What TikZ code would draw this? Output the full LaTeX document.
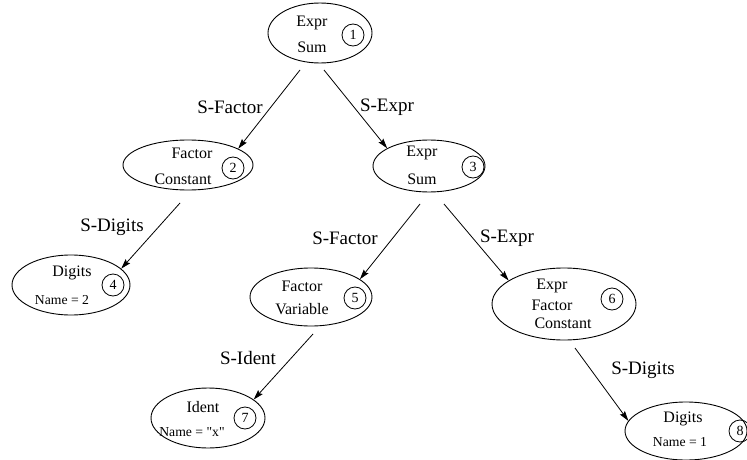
\documentclass[tikz,border=0pt]{standalone}
\usepackage{fontspec}
\setmainfont{Liberation Serif}
\usetikzlibrary{arrows.meta,shapes.geometric}

\begin{document}
\begin{tikzpicture}[x=1pt,y=-1pt,>={Stealth[length=10pt,width=6pt,inset=1.5pt]},
  tnode/.style={draw,ellipse,inner sep=0pt,line width=0.9pt},
  num/.style={draw,circle,inner sep=0pt,minimum size=22pt,line width=0.8pt,font=\fontsize{14}{14}\selectfont},
  word/.style={inner sep=0pt,font=\fontsize{16}{16}\selectfont},
  attr/.style={inner sep=0pt,font=\fontsize{13.7}{14}\selectfont},
  rel/.style={inner sep=0pt,font=\fontsize{19}{19}\selectfont},
  edge/.style={->,line width=0.8pt}]
\useasboundingbox (0,0) rectangle (747,460);
% tree nodes
\node[tnode,minimum width=104pt,minimum height=60pt] (e1) at (320,33) {};
\node[word] (e1a) at (312,23) {Expr};
\node[word] (e1b) at (312,47) {Sum};
\node[num] (c1) at (353,35) {1};
\node[tnode,minimum width=130pt,minimum height=50pt] (e2) at (188,165) {};
\node[word] (e2a) at (192,153) {Factor};
\node[word] (e2b) at (183,179) {Constant};
\node[num] (c2) at (233,168) {2};
\node[tnode,minimum width=112pt,minimum height=52pt] (e3) at (429,166) {};
\node[word] (e3a) at (422,153) {Expr};
\node[word] (e3b) at (422,179) {Sum};
\node[num] (c3) at (473,167) {3};
\node[tnode,minimum width=118pt,minimum height=60pt] (e4) at (71,285) {};
\node[word] (e4a) at (72,273) {Digits};
\node[attr] (e4b) at (62,300) {Name = 2};
\node[num] (c4) at (113,285) {4};
\node[tnode,minimum width=122pt,minimum height=58pt] (e5) at (311,297) {};
\node[word] (e5a) at (302,286) {Factor};
\node[word] (e5b) at (302,309) {Variable};
\node[num] (c5) at (355,298) {5};
\node[tnode,minimum width=144pt,minimum height=72pt] (e6) at (564,304) {};
\node[word] (e6a) at (552,286) {Expr};
\node[word] (e6b) at (552,305) {Factor};
\node[word] (e6c) at (563,323) {Constant};
\node[num] (c6) at (612,299) {6};
\node[tnode,minimum width=114pt,minimum height=60pt] (e7) at (208,418) {};
\node[word] (e7a) at (203,407) {Ident};
\node[attr] (e7b) at (192,432) {Name = \textquotedbl x\textquotedbl};
\node[num] (c7) at (245,418) {7};
\node[tnode,minimum width=122pt,minimum height=58pt] (e8) at (686,431) {};
\node[word] (e8a) at (683,419) {Digits};
\node[attr] (e8b) at (680,442) {Name = 1};
\node[num] (c8) at (740,431) {8};
% where the arcs leave
\coordinate (s12) at (300,70);
\coordinate (s13) at (324,70);
\coordinate (s24) at (180,203);
\coordinate (s35) at (420,204);
\coordinate (s36) at (444,204);
\coordinate (s57) at (313,334);
\coordinate (s68) at (575,348);
\draw[edge] (s12) -- (e2.18);
\draw[edge] (s13) -- (e3.157);
\draw[edge] (s24) -- (e4.18);
\draw[edge] (s35) -- (e5.20);
\draw[edge] (s36) -- (e6.157);
\draw[edge] (s57) -- (e7.22);
\draw[edge] (s68) -- (e8.170);
% arc labels
\node[rel] (l12) at (230,107) {S-Factor};
\node[rel] (l13) at (387,107) {S-Expr};
\node[rel] (l24) at (112,227) {S-Digits};
\node[rel] (l35) at (345,238) {S-Factor};
\node[rel] (l36) at (507,238) {S-Expr};
\node[rel] (l57) at (248,358) {S-Ident};
\node[rel] (l68) at (643,370) {S-Digits};
\end{tikzpicture}
\end{document}
